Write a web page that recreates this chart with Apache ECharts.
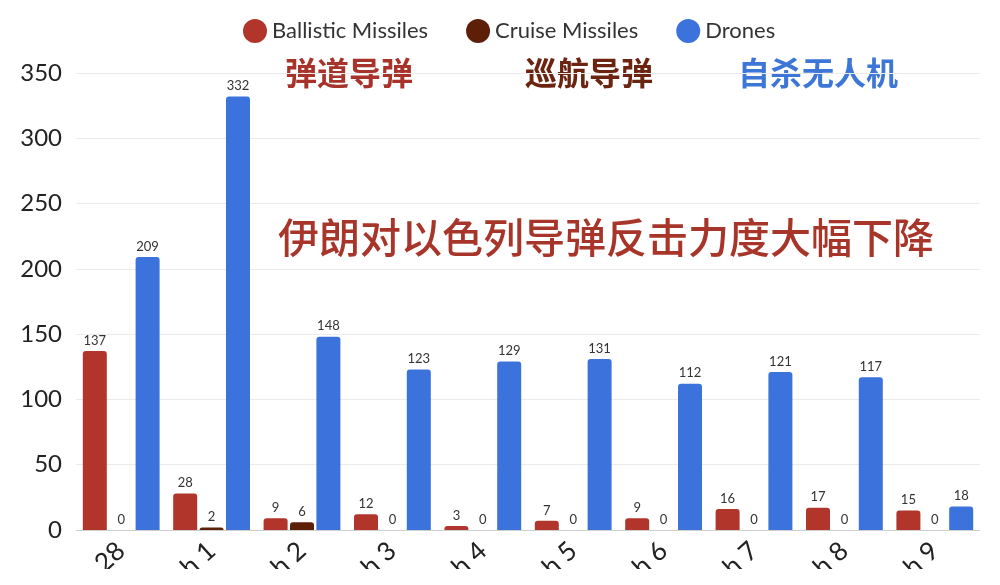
<!DOCTYPE html>
<html>
<head>
<meta charset="utf-8">
<script src="https://cdn.jsdelivr.net/npm/echarts@6/dist/echarts.min.js"></script>
<style>
html,body{margin:0;padding:0;background:#fff;}
#chart{width:1000px;height:585px;}
</style>
</head>
<body>
<div id="chart"></div>
<script>
const categories = ['Feb 28', 'March 1', 'March 2', 'March 3', 'March 4', 'March 5', 'March 6', 'March 7', 'March 8', 'March 9'];
const ballistic = [137, 28, 9, 12, 3, 7, 9, 16, 17, 15];
const cruise = [0, 2, 6, 0, 0, 0, 0, 0, 0, 0];
const drones = [209, 332, 148, 123, 129, 131, 112, 121, 117, 18];
const seriesNames = ['Ballistic Missiles', 'Cruise Missiles', 'Drones'];
const yTicks = [0, 50, 100, 150, 200, 250, 300, 350];

const colors = ['#b1352a', '#5e1f08', '#3b72db'];
const chart = echarts.init(document.getElementById('chart'));
const labelStyle = {show: true, position: 'top', fontSize: 13, color: '#333', distance: 4, fontFamily: 'Lato'};
function mk(name, data, color) {
  return {
    name: name, type: 'bar', data: data, barWidth: 24, barGap: '10%',
    itemStyle: {color: color, borderRadius: [3, 3, 0, 0]},
    label: labelStyle
  };
}
chart.setOption({
  animation: false,
  color: colors,
  legend: {
    top: 14, left: 238, icon: 'circle', itemWidth: 24, itemHeight: 24, itemGap: 38,
    textStyle: {fontSize: 22, color: '#333', fontFamily: 'Lato'},
    data: seriesNames
  },
  grid: {left: 76, right: 20, top: 73, bottom: 55, containLabel: false, outerBoundsMode: 'none'},
  xAxis: {
    type: 'category', data: categories,
    axisLine: {lineStyle: {color: '#cfcfcf'}},
    axisTick: {show: false},
    axisLabel: {rotate: 42, fontSize: 26, color: '#222', margin: 17, fontFamily: 'Lato', interval: 0}
  },
  yAxis: {
    type: 'value', min: yTicks[0], max: yTicks[yTicks.length - 1], interval: 50,
    axisLine: {show: false}, axisTick: {show: false},
    splitLine: {lineStyle: {color: '#ebebeb'}},
    axisLabel: {fontSize: 24, color: '#222', margin: 14, fontFamily: 'Lato'}
  },
  graphic: [
    {type: 'text', left: 285, top: 57, style: {text: '弹道导弹', fontSize: 32, fontWeight: 'bold', fill: '#a8332a', fontFamily: 'Noto Sans CJK SC'}},
    {type: 'text', left: 525, top: 57, style: {text: '巡航导弹', fontSize: 32, fontWeight: 'bold', fill: '#6a240f', fontFamily: 'Noto Sans CJK SC'}},
    {type: 'text', left: 738, top: 57, style: {text: '自杀无人机', fontSize: 32, fontWeight: 'bold', fill: '#3c76d6', fontFamily: 'Noto Sans CJK SC'}},
    {type: 'text', left: 278, top: 217, style: {text: '伊朗对以色列导弹反击力度大幅下降', fontSize: 41, fontWeight: 500, fill: '#a8352a', fontFamily: 'Noto Sans CJK SC'}},
    {type: 'rect', left: 0, top: 569, z: 100, shape: {width: 1000, height: 16}, style: {fill: '#ffffff'}}
  ],
  series: [
    mk(seriesNames[0], ballistic, colors[0]),
    mk(seriesNames[1], cruise, colors[1]),
    mk(seriesNames[2], drones, colors[2])
  ]
});
</script>
</body>
</html>
